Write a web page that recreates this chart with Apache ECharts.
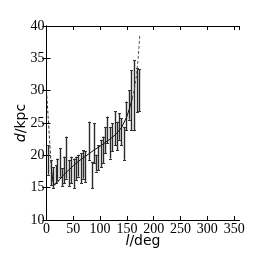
<!DOCTYPE html>
<html><head><meta charset="utf-8">
<script src="https://cdn.jsdelivr.net/npm/echarts@6/dist/echarts.min.js"></script>
<style>html,body{margin:0;padding:0;background:#fff}#c{width:266px;height:266px}</style>
</head><body><div id="c"></div>
<script>
// error bars: longitude, lower and upper distance
const barL    = [2.8, 7.8, 12.8, 17.1, 20.2, 24.6, 29.5, 32.7, 37.0, 42.0, 46.3, 51.3, 55.7, 59.4, 63.7, 68.1, 71.2, 79.9, 84.3, 88.6, 93.0, 96.1, 101.0, 105.4, 109.1, 113.5, 117.9, 122.8, 127.2, 130.9, 135.3, 139.6, 144.6, 149.0, 154.0, 158.3, 163.3, 169.5, 173.0];
const barLow  = [17.0, 15.4, 14.9, 15.7, 16.2, 16.7, 15.2, 15.7, 16.4, 15.2, 15.7, 14.9, 16.2, 16.7, 15.7, 16.4, 15.9, 19.3, 14.9, 18.8, 17.5, 17.7, 18.2, 18.8, 20.3, 21.9, 19.5, 20.6, 21.6, 20.8, 22.4, 21.6, 19.3, 23.9, 25.5, 23.9, 23.9, 26.7, 26.8];
const barHigh = [21.6, 19.3, 18.2, 18.5, 19.5, 21.1, 18.0, 19.8, 22.9, 19.3, 19.8, 19.5, 19.8, 20.1, 20.3, 20.8, 20.6, 25.2, 19.0, 25.0, 20.1, 21.6, 22.4, 22.9, 24.4, 26.0, 24.4, 25.0, 26.8, 25.2, 26.5, 25.7, 24.4, 28.3, 30.1, 33.2, 34.7, 33.5, 33.3];
// model curve
const curveL = [0, 3, 6, 9, 12, 15, 20, 30, 40, 50, 60, 70, 80, 90, 100, 110, 120, 130, 140, 150, 155, 160, 165, 168, 171, 174];
const curveD = [30, 26, 22, 18, 16, 15.4, 15.8, 16.8, 17.6, 18.4, 19.1, 19.7, 20.3, 20.9, 21.4, 22.0, 22.6, 23.3, 24.3, 26.0, 27.3, 28.8, 30.7, 32.5, 35, 38.6];
const xTicks = [0, 50, 100, 150, 200, 250, 300, 350];
const yTicks = [10, 15, 20, 25, 30, 35, 40];

const pts = curveL.map((l, i) => [l, curveD[i]]);
const solidStart = 3, solidEnd = 21;
const leftDash = pts.slice(0, solidStart + 1);
const solid = pts.slice(solidStart, solidEnd + 1);
const rightDash = pts.slice(solidEnd);
const bars = barL.map((l, i) => [l, barLow[i], barHigh[i]]);

const serif = "'Liberation Serif', 'Times New Roman', serif";
const sans = "'DejaVu Sans', sans-serif";
const tickStyle = {show: true, inside: true, length: 4, lineStyle: {color: '#000', width: 1}};
const lineAx = {show: true, lineStyle: {color: '#000', width: 1}};

const chart = echarts.init(document.getElementById('c'), null, {renderer: 'canvas'});
chart.setOption({
  animation: false,
  backgroundColor: '#fff',
  grid: {left: 46.5, right: 26.5, top: 26, bottom: 46, containLabel: false},
  xAxis: [{
    type: 'value', min: 0, max: 360, interval: 50, position: 'bottom',
    axisLine: lineAx, axisTick: tickStyle, splitLine: {show: false},
    axisLabel: {show: true, showMaxLabel: false, margin: 2, color: '#000', fontFamily: serif, fontSize: 14,
      formatter: v => xTicks.includes(v) ? String(v) : ''},
    name: '{i|l}/deg', nameLocation: 'middle', nameGap: 21, nameMoveOverlap: false,
    nameTextStyle: {color: '#000', fontFamily: sans, fontSize: 14, verticalAlign: 'middle',
      rich: {i: {fontStyle: 'italic', fontFamily: sans, fontSize: 14, color: '#000'}}}
  }, {
    type: 'value', min: 0, max: 360, interval: 50, position: 'top',
    axisLine: lineAx, axisTick: tickStyle, splitLine: {show: false}, axisLabel: {show: false}
  }],
  yAxis: [{
    type: 'value', min: 10, max: 40, interval: 5, position: 'left',
    axisLine: lineAx, axisTick: tickStyle, splitLine: {show: false},
    axisLabel: {show: true, margin: 2, color: '#000', fontFamily: serif, fontSize: 14,
      formatter: v => yTicks.includes(v) ? String(v) : ''},
    name: '{i|d}/kpc', nameLocation: 'middle', nameGap: 25, nameRotate: 90, nameMoveOverlap: false,
    nameTextStyle: {color: '#000', fontFamily: sans, fontSize: 14, verticalAlign: 'middle',
      rich: {i: {fontStyle: 'italic', fontFamily: sans, fontSize: 14, color: '#000'}}}
  }, {
    type: 'value', min: 10, max: 40, interval: 5, position: 'right',
    axisLine: lineAx, axisTick: tickStyle, splitLine: {show: false}, axisLabel: {show: false}
  }],
  series: [{
    type: 'custom',
    data: bars,
    renderItem: function (params, api) {
      const l = api.value(0);
      const lo = api.coord([l, api.value(1)]);
      const hi = api.coord([l, api.value(2)]);
      const x = Math.round(lo[0]) + 0.5;
      const cw = 1.5;
      const st = {stroke: '#2a2a2a', lineWidth: 1.4};
      return {type: 'group', children: [
        {type: 'line', shape: {x1: x, y1: lo[1], x2: x, y2: hi[1]}, style: st},
        {type: 'line', shape: {x1: x - cw, y1: Math.round(lo[1]) + 0.5, x2: x + cw, y2: Math.round(lo[1]) + 0.5}, style: {stroke: '#333', lineWidth: 1}},
        {type: 'line', shape: {x1: x - cw, y1: Math.round(hi[1]) + 0.5, x2: x + cw, y2: Math.round(hi[1]) + 0.5}, style: {stroke: '#333', lineWidth: 1}}
      ]};
    },
    z: 2
  }, {
    type: 'line', data: solid, showSymbol: false, symbol: 'none',
    lineStyle: {color: '#111', width: 1}, z: 3
  }, {
    type: 'line', data: leftDash, showSymbol: false, symbol: 'none',
    lineStyle: {color: '#333', width: 1, type: [3, 2]}, z: 3
  }, {
    type: 'line', data: rightDash, showSymbol: false, symbol: 'none',
    lineStyle: {color: '#555', width: 1, type: [3, 2]}, z: 3
  }]
});
</script></body></html>
